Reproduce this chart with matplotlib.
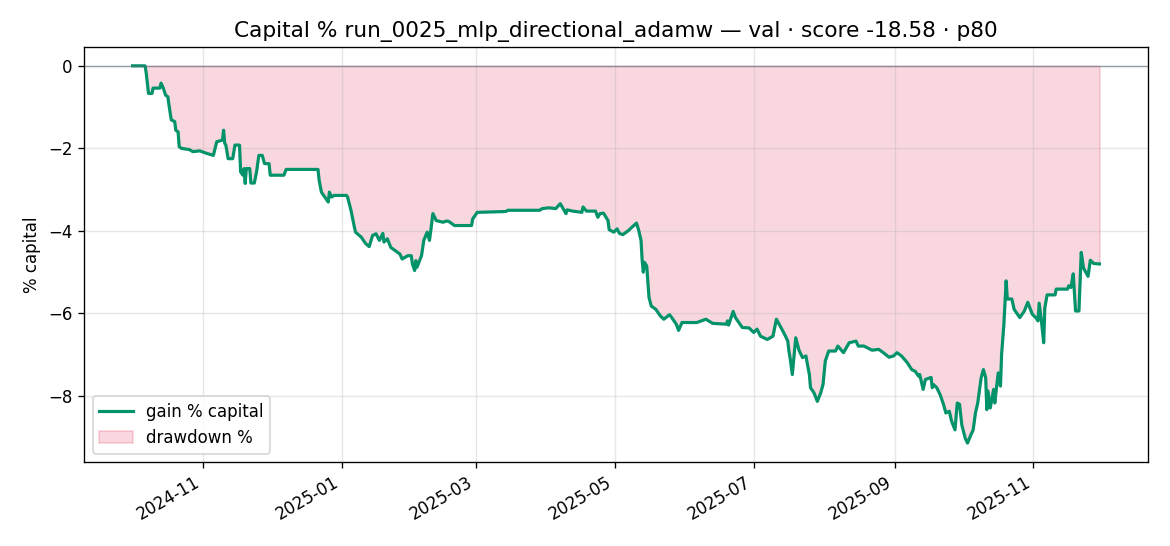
import matplotlib
matplotlib.use("Agg")
import matplotlib.pyplot as plt
import numpy as np
import pandas as pd

plt.rcParams["font.family"] = ["DejaVu Sans"]

title = "Capital % run_0025_mlp_directional_adamw — val · score -18.58 · p80"

# equity curve (timestamp, % capital)
dates = [
    "2024-10-01 00:00", "2024-10-06 12:00", "2024-10-07 00:00", "2024-10-07 12:00",
    "2024-10-08 00:00", "2024-10-09 12:00", "2024-10-10 00:00", "2024-10-13 00:00",
    "2024-10-13 12:00", "2024-10-14 12:00", "2024-10-15 12:00", "2024-10-16 12:00",
    "2024-10-17 00:00", "2024-10-18 00:00", "2024-10-19 12:00", "2024-10-20 00:00",
    "2024-10-21 00:00", "2024-10-21 12:00", "2024-10-22 12:00", "2024-10-26 00:00",
    "2024-10-27 12:00", "2024-10-30 12:00", "2024-11-02 12:00", "2024-11-05 12:00",
    "2024-11-07 00:00", "2024-11-09 12:00", "2024-11-10 00:00", "2024-11-10 12:00",
    "2024-11-11 00:00", "2024-11-12 00:00", "2024-11-14 00:00", "2024-11-15 00:00",
    "2024-11-17 00:00", "2024-11-17 12:00", "2024-11-18 12:00", "2024-11-19 00:00",
    "2024-11-19 12:00", "2024-11-20 00:00", "2024-11-21 12:00", "2024-11-22 00:00",
    "2024-11-23 12:00", "2024-11-24 12:00", "2024-11-25 12:00", "2024-11-27 00:00",
    "2024-11-28 00:00", "2024-11-30 00:00", "2024-11-30 12:00", "2024-12-06 12:00",
    "2024-12-07 12:00", "2024-12-21 12:00", "2024-12-22 00:00", "2024-12-23 00:00",
    "2024-12-24 12:00", "2024-12-26 00:00", "2024-12-26 12:00", "2024-12-27 12:00",
    "2024-12-28 12:00", "2025-01-03 00:00", "2025-01-03 12:00", "2025-01-05 00:00",
    "2025-01-06 12:00", "2025-01-07 00:00", "2025-01-09 12:00", "2025-01-11 12:00",
    "2025-01-13 00:00", "2025-01-14 12:00", "2025-01-16 00:00", "2025-01-17 12:00",
    "2025-01-19 00:00", "2025-01-19 12:00", "2025-01-21 00:00", "2025-01-22 12:00",
    "2025-01-26 12:00", "2025-01-27 12:00", "2025-01-30 00:00", "2025-01-31 12:00",
    "2025-02-01 00:00", "2025-02-02 00:00", "2025-02-02 12:00", "2025-02-03 00:00",
    "2025-02-05 00:00", "2025-02-06 00:00", "2025-02-07 12:00", "2025-02-08 12:00",
    "2025-02-09 00:00", "2025-02-10 00:00", "2025-02-11 12:00", "2025-02-14 12:00",
    "2025-02-16 00:00", "2025-02-17 00:00", "2025-02-19 12:00", "2025-02-27 00:00",
    "2025-02-27 12:00", "2025-03-01 12:00", "2025-03-14 00:00", "2025-03-15 00:00",
    "2025-03-29 00:00", "2025-03-30 00:00", "2025-04-02 00:00", "2025-04-05 00:00",
    "2025-04-07 00:00", "2025-04-09 12:00", "2025-04-10 00:00", "2025-04-12 12:00",
    "2025-04-16 12:00", "2025-04-17 00:00", "2025-04-18 12:00", "2025-04-22 12:00",
    "2025-04-23 12:00", "2025-04-24 12:00", "2025-04-26 00:00", "2025-04-28 00:00",
    "2025-04-28 12:00", "2025-04-30 12:00", "2025-05-02 00:00", "2025-05-03 00:00",
    "2025-05-04 12:00", "2025-05-07 00:00", "2025-05-08 12:00", "2025-05-10 12:00",
    "2025-05-11 12:00", "2025-05-12 12:00", "2025-05-13 00:00", "2025-05-13 12:00",
    "2025-05-14 00:00", "2025-05-15 00:00", "2025-05-16 00:00", "2025-05-17 00:00",
    "2025-05-19 00:00", "2025-05-21 00:00", "2025-05-22 12:00", "2025-05-25 00:00",
    "2025-05-26 00:00", "2025-05-28 00:00", "2025-05-29 00:00", "2025-05-30 12:00",
    "2025-06-06 00:00", "2025-06-10 00:00", "2025-06-13 00:00", "2025-06-19 00:00",
    "2025-06-19 12:00", "2025-06-20 00:00", "2025-06-22 00:00", "2025-06-23 00:00",
    "2025-06-24 12:00", "2025-06-26 00:00", "2025-06-29 00:00", "2025-07-01 00:00",
    "2025-07-02 12:00", "2025-07-04 00:00", "2025-07-07 00:00", "2025-07-09 12:00",
    "2025-07-11 00:00", "2025-07-13 00:00", "2025-07-15 00:00", "2025-07-16 00:00",
    "2025-07-16 12:00", "2025-07-17 00:00", "2025-07-18 00:00", "2025-07-19 12:00",
    "2025-07-21 00:00", "2025-07-22 12:00", "2025-07-24 00:00", "2025-07-24 12:00",
    "2025-07-25 12:00", "2025-07-26 00:00", "2025-07-27 12:00", "2025-07-29 00:00",
    "2025-07-30 12:00", "2025-07-31 12:00", "2025-08-01 12:00", "2025-08-03 00:00",
    "2025-08-06 00:00", "2025-08-07 00:00", "2025-08-09 12:00", "2025-08-12 00:00",
    "2025-08-15 00:00", "2025-08-16 00:00", "2025-08-18 12:00", "2025-08-22 00:00",
    "2025-08-25 00:00", "2025-08-27 00:00", "2025-08-29 12:00", "2025-08-31 12:00",
    "2025-09-02 00:00", "2025-09-04 00:00", "2025-09-06 12:00", "2025-09-08 12:00",
    "2025-09-10 00:00", "2025-09-11 12:00", "2025-09-12 00:00", "2025-09-13 12:00",
    "2025-09-14 12:00", "2025-09-17 00:00", "2025-09-17 12:00", "2025-09-18 00:00",
    "2025-09-19 12:00", "2025-09-21 00:00", "2025-09-22 12:00", "2025-09-23 12:00",
    "2025-09-25 00:00", "2025-09-26 00:00", "2025-09-27 12:00", "2025-09-28 12:00",
    "2025-09-29 12:00", "2025-09-30 12:00", "2025-10-02 00:00", "2025-10-03 00:00",
    "2025-10-04 12:00", "2025-10-05 12:00", "2025-10-06 12:00", "2025-10-07 12:00",
    "2025-10-09 00:00", "2025-10-10 00:00", "2025-10-11 00:00", "2025-10-11 12:00",
    "2025-10-12 00:00", "2025-10-13 00:00", "2025-10-14 12:00", "2025-10-15 00:00",
    "2025-10-16 12:00", "2025-10-17 12:00", "2025-10-18 00:00", "2025-10-19 00:00",
    "2025-10-20 00:00", "2025-10-20 12:00", "2025-10-22 12:00", "2025-10-23 12:00",
    "2025-10-25 00:00", "2025-10-26 00:00", "2025-10-28 00:00", "2025-10-29 12:00",
    "2025-10-31 12:00", "2025-11-02 00:00", "2025-11-03 00:00", "2025-11-03 12:00",
    "2025-11-04 12:00", "2025-11-05 12:00", "2025-11-06 00:00", "2025-11-07 00:00",
    "2025-11-10 12:00", "2025-11-11 00:00", "2025-11-16 00:00", "2025-11-16 12:00",
    "2025-11-17 12:00", "2025-11-18 12:00", "2025-11-19 12:00", "2025-11-21 00:00",
    "2025-11-22 00:00", "2025-11-23 00:00", "2025-11-25 00:00", "2025-11-26 00:00",
    "2025-11-27 12:00", "2025-11-30 00:00",
]

gain_pct = [
    0.00, 0.00, -0.18, -0.42,
    -0.67, -0.67, -0.54, -0.54,
    -0.42, -0.54, -0.71, -0.75,
    -0.95, -1.31, -1.35, -1.56,
    -1.60, -1.96, -2.00, -2.03,
    -2.08, -2.06, -2.12, -2.17,
    -1.84, -1.80, -1.56, -1.88,
    -1.92, -2.25, -2.25, -1.92,
    -1.92, -2.57, -2.65, -2.49,
    -2.85, -2.49, -2.49, -2.84,
    -2.84, -2.57, -2.17, -2.17,
    -2.37, -2.37, -2.65, -2.65,
    -2.51, -2.51, -2.77, -3.06,
    -3.18, -3.30, -3.06, -3.18,
    -3.14, -3.14, -3.18, -3.50,
    -3.91, -4.03, -4.15, -4.31,
    -4.38, -4.11, -4.07, -4.23,
    -4.06, -4.27, -4.19, -4.40,
    -4.56, -4.68, -4.60, -4.60,
    -4.80, -4.96, -4.72, -4.88,
    -4.60, -4.23, -4.03, -4.23,
    -4.03, -3.58, -3.75, -3.79,
    -3.76, -3.77, -3.87, -3.87,
    -3.71, -3.55, -3.53, -3.50,
    -3.50, -3.46, -3.44, -3.46,
    -3.34, -3.58, -3.49, -3.52,
    -3.55, -3.42, -3.52, -3.52,
    -3.67, -3.58, -3.57, -3.75,
    -3.97, -4.03, -3.95, -4.06,
    -4.09, -3.99, -3.91, -3.81,
    -3.99, -4.23, -4.72, -5.00,
    -4.76, -4.85, -5.61, -5.82,
    -5.90, -6.06, -6.14, -6.03,
    -6.10, -6.26, -6.41, -6.22,
    -6.22, -6.14, -6.24, -6.26,
    -6.18, -6.28, -5.95, -6.10,
    -6.22, -6.34, -6.35, -6.46,
    -6.38, -6.55, -6.63, -6.55,
    -6.14, -6.34, -6.55, -6.67,
    -6.91, -7.07, -7.48, -6.59,
    -6.90, -7.07, -7.03, -7.19,
    -7.48, -7.80, -7.92, -8.13,
    -7.92, -7.72, -7.15, -6.91,
    -6.91, -6.79, -6.95, -6.71,
    -6.67, -6.79, -6.79, -6.89,
    -6.87, -6.95, -7.06, -7.03,
    -6.95, -7.03, -7.19, -7.36,
    -7.40, -7.52, -7.48, -7.84,
    -7.60, -7.55, -7.80, -7.72,
    -7.80, -7.97, -8.21, -8.41,
    -8.37, -8.61, -8.82, -8.17,
    -8.20, -8.70, -9.02, -9.14,
    -8.94, -8.82, -8.41, -8.17,
    -7.56, -7.36, -7.56, -8.33,
    -7.88, -8.29, -7.84, -8.17,
    -7.44, -7.76, -6.99, -6.26,
    -5.21, -5.65, -5.65, -5.90,
    -6.02, -6.10, -5.94, -5.73,
    -6.02, -6.10, -6.18, -5.75,
    -6.18, -6.71, -5.86, -5.55,
    -5.55, -5.41, -5.41, -5.33,
    -5.37, -5.04, -5.94, -5.94,
    -4.52, -4.90, -5.10, -4.71,
    -4.79, -4.80,
]

t = pd.to_datetime(dates)
gain = np.array(gain_pct)
peak = np.maximum.accumulate(gain)

fig, ax = plt.subplots(figsize=(9.75, 4.55), dpi=120)

ax.plot(t, gain, color="#02936a", lw=1.9, label="gain % capital")
ax.fill_between(t, gain, peak, color="crimson", alpha=0.17, label="drawdown %")
ax.axhline(0, color="#5a6b7d", lw=0.8, alpha=0.6)

ax.set_title(title, fontsize=13)
ax.set_ylabel("% capital")
ax.grid(alpha=0.3)
ax.legend(loc="lower left")

fig.autofmt_xdate()
fig.subplots_adjust(left=0.072, right=0.981, top=0.914, bottom=0.154)
fig.savefig("out.png")
